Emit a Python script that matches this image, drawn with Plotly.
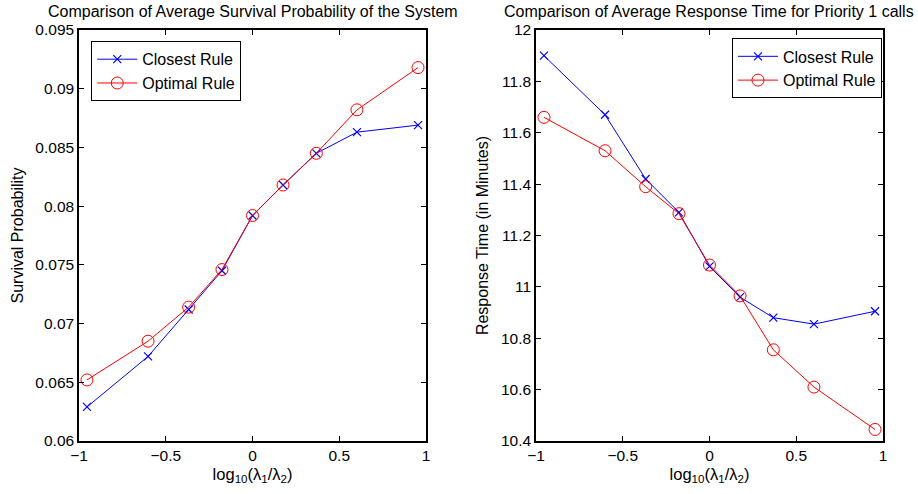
import numpy as np
import plotly.graph_objects as go

x_vals = [-0.954, -0.602, -0.368, -0.176, 0.0, 0.176, 0.368, 0.602, 0.954]

surv_closest = [0.0629, 0.0672, 0.0712, 0.0745, 0.0792, 0.0818, 0.0845, 0.0863, 0.0869]
surv_optimal = [0.0652, 0.0685, 0.0714, 0.0746, 0.0792, 0.0818, 0.0845, 0.0882, 0.0918]

resp_closest = [11.90, 11.67, 11.42, 11.29, 11.08, 10.96, 10.88, 10.855, 10.905]
resp_optimal = [11.66, 11.53, 11.39, 11.285, 11.085, 10.965, 10.755, 10.61, 10.445]

x_ticks = [-1, -0.5, 0, 0.5, 1]
x_ticktext = ["\u22121", "\u22120.5", "0", "0.5", "1"]
surv_ticks = [0.06, 0.065, 0.07, 0.075, 0.08, 0.085, 0.09, 0.095]
surv_ticktext = ["0.06", "0.065", "0.07", "0.075", "0.08", "0.085", "0.09", "0.095"]
resp_ticks = [10.4, 10.6, 10.8, 11, 11.2, 11.4, 11.6, 11.8, 12]
resp_ticktext = ["10.4", "10.6", "10.8", "11", "11.2", "11.4", "11.6", "11.8", "12"]

FONT = "Liberation Sans, Arial, sans-serif"
BLUE = "#0000ff"
RED = "#ff0000"

fig = go.Figure()

def add_pair(xa, ya, yc, yo, legend):
    fig.add_trace(go.Scatter(x=x_vals, y=yc, mode="lines+markers", name="Closest Rule",
                             line=dict(color=BLUE, width=1),
                             marker=dict(symbol="x-thin-open", size=8, color=BLUE,
                                         line=dict(color=BLUE, width=1.2)),
                             xaxis=xa, yaxis=ya, legend=legend))
    fig.add_trace(go.Scatter(x=x_vals, y=yo, mode="lines+markers", name="Optimal Rule",
                             line=dict(color=RED, width=1),
                             marker=dict(symbol="circle-open", size=12, color=RED,
                                         line=dict(color=RED, width=1)),
                             xaxis=xa, yaxis=ya, legend=legend))

add_pair("x", "y", surv_closest, surv_optimal, "legend")
add_pair("x2", "y2", resp_closest, resp_optimal, "legend2")

ax_common = dict(showline=True, linecolor="black", linewidth=1.5, mirror="ticks",
                 ticks="inside", ticklen=5, tickcolor="black", showgrid=False,
                 zeroline=False, tickfont=dict(family=FONT, size=15.5, color="black"))

xlabel = "log<sub>10</sub>(\u03bb<sub>1</sub>/\u03bb<sub>2</sub>)"

fig.update_layout(
    width=918, height=494,
    margin=dict(l=79, r=35, t=30, b=53),
    plot_bgcolor="white", paper_bgcolor="white",
    font=dict(family=FONT, color="black"),
    xaxis=dict(domain=[0, 0.4316], range=[-1, 1], tickvals=x_ticks, ticktext=x_ticktext,
               title=dict(text=xlabel, font=dict(size=16.5), standoff=5), **ax_common),
    yaxis=dict(range=[0.06, 0.095], tickvals=surv_ticks, ticktext=surv_ticktext,
               title=dict(text="Survival Probability", font=dict(size=16), standoff=8),
               **ax_common),
    xaxis2=dict(domain=[0.5684, 1], range=[-1, 1], tickvals=x_ticks, ticktext=x_ticktext,
                anchor="y2",
                title=dict(text=xlabel, font=dict(size=16.5), standoff=5), **ax_common),
    yaxis2=dict(range=[10.4, 12], tickvals=resp_ticks, ticktext=resp_ticktext,
                anchor="x2",
                title=dict(text="Response Time (in Minutes)", font=dict(size=16), standoff=8),
                **ax_common),
    legend=dict(x=0.015, y=0.973, xanchor="left", yanchor="top", bgcolor="white",
                bordercolor="black", borderwidth=1.2, font=dict(size=16, family=FONT),
                tracegroupgap=0, itemwidth=40),
    legend2=dict(x=0.9985, y=0.98, xanchor="right", yanchor="top", bgcolor="white",
                 bordercolor="black", borderwidth=1.2, font=dict(size=16, family=FONT),
                 tracegroupgap=0, itemwidth=40),
    showlegend=True,
    annotations=[
        dict(text="Comparison of Average Survival Probability of the System", x=0.2158,
             y=1.0, xref="paper", yref="paper", xanchor="center", yanchor="bottom",
             yshift=8, showarrow=False, font=dict(size=16, family=FONT)),
        dict(text="Comparison of Average Response Time for Priority 1 calls", x=0.7842,
             y=1.0, xref="paper", yref="paper", xanchor="center", yanchor="bottom",
             yshift=8, showarrow=False, font=dict(size=16, family=FONT)),
    ],
)

fig.write_html("out.html")
